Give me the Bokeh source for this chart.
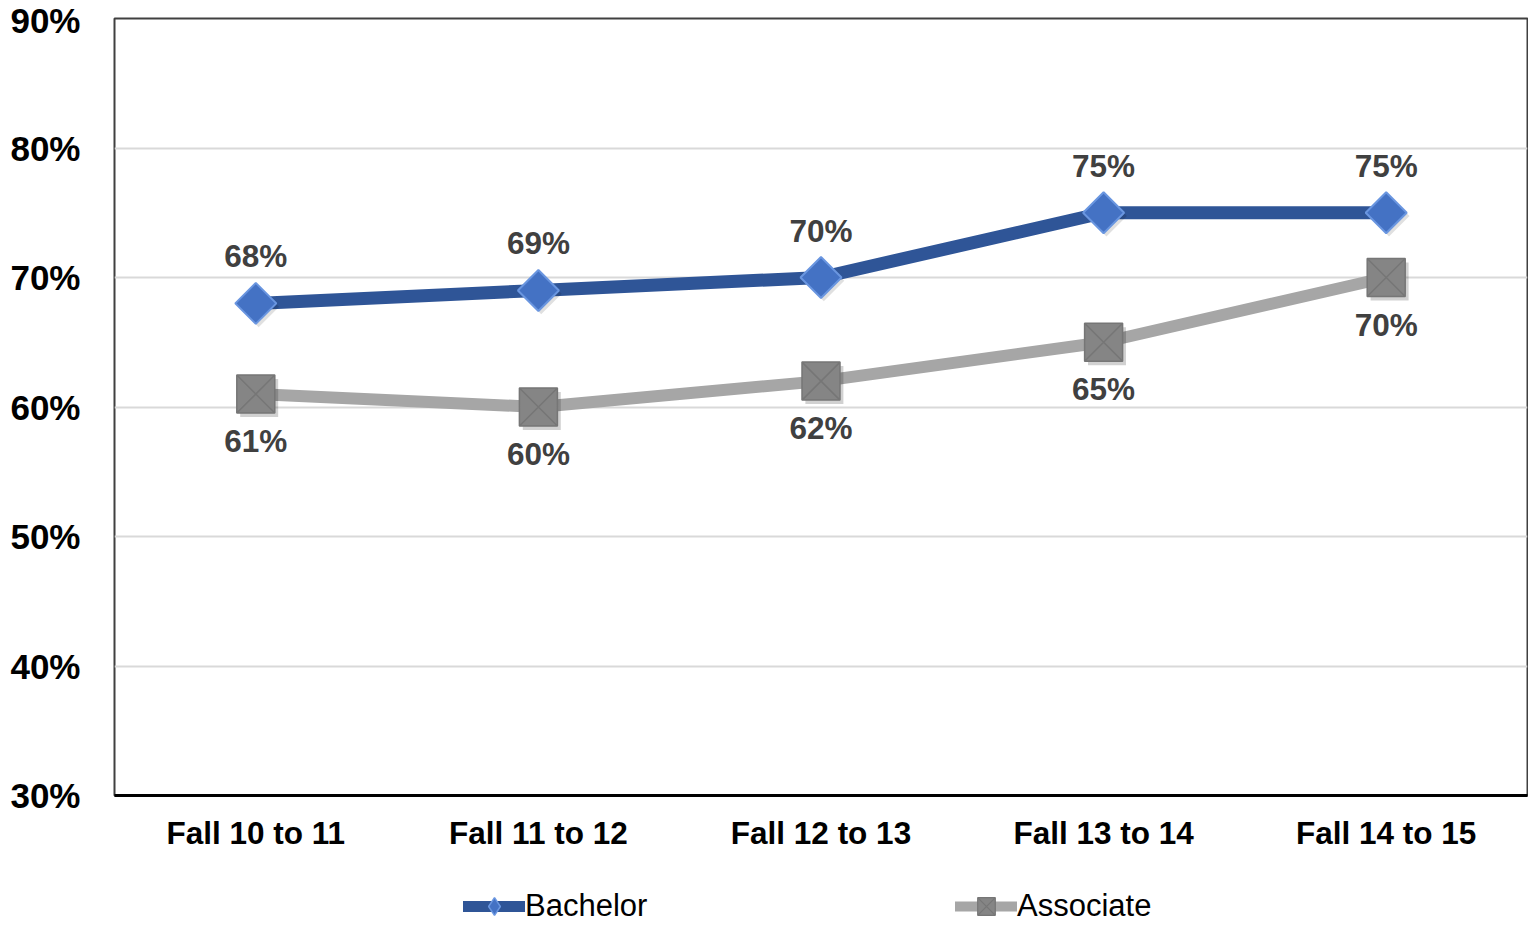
import math
from bokeh.plotting import figure
from bokeh.layouts import column
from bokeh.models import (ColumnDataSource, FactorRange, Range1d, PrintfTickFormatter,
                          Legend, LegendItem, FixedTicker)
from bokeh.transform import dodge
from bokeh.embed import file_html
from bokeh.resources import INLINE
from bokeh.core.properties import value

# ---- data ----
categories = ["Fall 10 to 11", "Fall 11 to 12", "Fall 12 to 13", "Fall 13 to 14", "Fall 14 to 15"]
bachelor = [68, 69, 70, 75, 75]
associate = [61, 60, 62, 65, 70]
y_ticks = [30, 40, 50, 60, 70, 80, 90]
series_names = ["Bachelor", "Associate"]

src = ColumnDataSource(dict(
    cat=categories,
    bachelor=bachelor,
    associate=associate,
    b_lab=[f"{v}%" for v in bachelor],
    a_lab=[f"{v}%" for v in associate],
))

FONT = "Liberation Sans"
BLUE_LINE = "#2F5597"
BLUE_FILL = "#4472C4"
BLUE_EDGE = "#6A96E0"
GRAY_LINE = "#A6A6A6"
GRAY_FILL = "#858585"
GRAY_EDGE = "#767676"

p = figure(width=1528, height=872, x_range=FactorRange(*categories, range_padding=0),
           y_range=Range1d(30, 90), output_backend="svg", toolbar_location=None,
           min_border_left=114, min_border_right=1, min_border_top=18, min_border_bottom=77)

p.background_fill_color = "white"
p.border_fill_color = "white"
p.outline_line_color = "#404040"
p.outline_line_width = 2

# grid
p.xgrid.grid_line_color = None
p.ygrid.grid_line_color = "#D9D9D9"
p.ygrid.grid_line_width = 2

# y axis
p.yaxis.ticker = FixedTicker(ticks=y_ticks)
p.yaxis.formatter = PrintfTickFormatter(format="%d%%")
p.yaxis.axis_line_color = None
p.yaxis.major_tick_line_color = None
p.yaxis.minor_tick_line_color = None
p.yaxis.major_tick_out = 0
p.yaxis.major_label_standoff = 34
p.yaxis.major_label_text_font = FONT
p.yaxis.major_label_text_font_style = "bold"
p.yaxis.major_label_text_font_size = "35px"
p.yaxis.major_label_text_color = "black"

# x axis
p.xaxis.axis_line_color = "black"
p.xaxis.axis_line_width = 3
p.xaxis.major_tick_line_color = None
p.xaxis.minor_tick_line_color = None
p.xaxis.major_tick_out = 0
p.xaxis.major_label_standoff = 19
p.xaxis.major_label_text_font = FONT
p.xaxis.major_label_text_font_style = "bold"
p.xaxis.major_label_text_font_size = "31.5px"
p.xaxis.major_label_text_color = "black"

# lines
p.line("cat", "bachelor", source=src, line_color=BLUE_LINE, line_width=13, line_cap="round")
p.line("cat", "associate", source=src, line_color=GRAY_LINE, line_width=12, line_cap="round")

# marker shadows
p.scatter(dodge("cat", 0.012, range=p.x_range), dodge("associate", -0.3), source=src,
          marker="square", size=38, fill_color="black", fill_alpha=0.18, line_color=None)
p.scatter(dodge("cat", 0.01, range=p.x_range), dodge("bachelor", -0.25), source=src,
          marker="square", angle=math.pi / 4, size=29, fill_color="black", fill_alpha=0.12,
          line_color=None)

# markers
p.scatter("cat", "associate", source=src, marker="square_x", size=38,
          fill_color=GRAY_FILL, line_color=GRAY_EDGE, line_width=1.5)
p.scatter("cat", "bachelor", source=src, marker="square", angle=math.pi / 4, size=29,
          fill_color=BLUE_FILL, line_color=BLUE_EDGE, line_width=2)

# data labels
p.text("cat", "bachelor", text="b_lab", source=src, y_offset=-47,
       text_align="center", text_baseline="middle", text_font=value(FONT),
       text_font_style="bold", text_font_size="31.5px", text_color="#404040")
p.text("cat", "associate", text="a_lab", source=src, y_offset=47,
       text_align="center", text_baseline="middle", text_font=value(FONT),
       text_font_style="bold", text_font_size="31.5px", text_color="#404040")

# ---- legend strip (separate small figure so the legend is not clipped) ----
lg = figure(width=1528, height=56, x_range=Range1d(0, 1), y_range=Range1d(0, 1),
            output_backend="svg", toolbar_location=None, x_axis_type=None, y_axis_type=None,
            min_border=0, min_border_left=0, min_border_right=0, min_border_top=0,
            min_border_bottom=0)
lg.outline_line_color = None
lg.grid.grid_line_color = None
lg.background_fill_color = "white"
lg.border_fill_color = "white"

# legend-only renderers: points placed outside the strip's visible range
off = ColumnDataSource(dict(x=[-10, -11], y=[-10, -11]))
llb = lg.line("x", "y", source=off, line_color=BLUE_LINE, line_width=11, line_cap="round")
lmb = lg.scatter("x", "y", source=off, marker="diamond", size=15,
                 fill_color=BLUE_FILL, line_color=BLUE_EDGE, line_width=1.5)
lla = lg.line("x", "y", source=off, line_color=GRAY_LINE, line_width=10, line_cap="round")
lma = lg.scatter("x", "y", source=off, marker="square_x", size=15,
                 fill_color=GRAY_FILL, line_color=GRAY_EDGE, line_width=1.2)

legend = Legend(items=[LegendItem(label=series_names[0], renderers=[llb, lmb]),
                       LegendItem(label=series_names[1], renderers=[lla, lma])],
                orientation="horizontal", location=(349, 0),
                glyph_width=62, glyph_height=44, label_standoff=0, label_width=165,
                spacing=265, padding=0, margin=0, border_line_color=None,
                background_fill_alpha=0,
                label_text_font=FONT, label_text_font_size="31px", label_text_color="black")
lg.add_layout(legend, "center")

layout = column(p, lg, spacing=0)

open("out.html", "w").write(file_html(layout, INLINE))
